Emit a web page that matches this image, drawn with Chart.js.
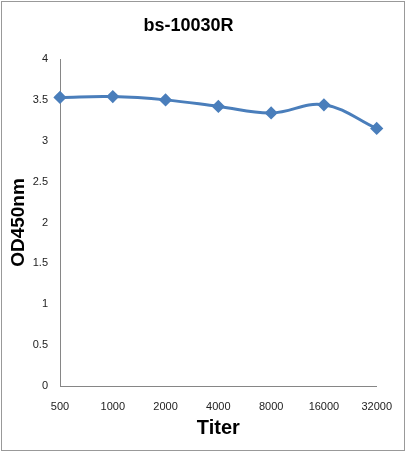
<!DOCTYPE html>
<html lang="en">
<head>
    <meta charset="UTF-8">
    <title>bs-10030R</title>
    <script src="https://cdn.jsdelivr.net/npm/chart.js"></script>
    <style>
        body {
            margin: 0;
            padding: 0;
            background: white;
        }
        #wrap {
            position: relative;
            width: 406px;
            height: 452px;
        }
        #frame {
            position: absolute;
            left: 1px;
            top: 1px;
            width: 402px;
            height: 448px;
            border: 1px solid #999;
            pointer-events: none;
        }
        canvas {
            position: absolute;
            left: 0;
            top: 0;
        }
    </style>
</head>
<body>
    <div id="wrap">
        <div id="frame"></div>
        <canvas id="odChart" width="406" height="452"></canvas>
    </div>

    <script>
        // values
        const titers = ['500', '1000', '2000', '4000', '8000', '16000', '32000'];
        const od450 = [3.53, 3.54, 3.50, 3.42, 3.34, 3.44, 3.15];
        const yMin = 0;
        const yMax = 4;
        const yStep = 0.5;

        const lineBlue = '#4a7ebb';
        const axisGray = '#868686';

        const ctx = document.getElementById('odChart').getContext('2d');
        const odChart = new Chart(ctx, {
            type: 'line',
            data: {
                labels: titers,
                datasets: [{
                    label: 'bs-10030R',
                    data: od450,
                    borderColor: lineBlue,
                    backgroundColor: lineBlue,
                    borderWidth: 3,
                    pointStyle: 'rectRot',
                    pointRadius: 4.5,
                    tension: 0.4,
                    fill: false
                }]
            },
            options: {
                responsive: false,
                animation: false,
                layout: {
                    padding: { left: 0, right: 29, top: 0, bottom: 0 }
                },
                plugins: {
                    legend: { display: false },
                    tooltip: { enabled: false },
                    title: {
                        display: true,
                        text: 'bs-10030R',
                        color: '#000',
                        font: { family: 'Liberation Sans', size: 18, weight: 'bold' },
                        padding: { top: 15, bottom: 22.4 }
                    }
                },
                scales: {
                    x: {
                        offset: false,
                        grid: { display: false, drawTicks: false },
                        border: { display: true, color: axisGray, width: 1 },
                        ticks: {
                            color: '#222',
                            padding: 14,
                            maxRotation: 0,
                            font: { family: 'Liberation Sans', size: 11 }
                        },
                        title: {
                            display: true,
                            text: 'Titer',
                            color: '#000',
                            font: { family: 'Liberation Sans', size: 20, weight: 'bold' },
                            padding: { top: 0, bottom: 12 }
                        },
                        afterFit: function(scale) { scale.height = 66; }
                    },
                    y: {
                        min: yMin,
                        max: yMax,
                        grid: { display: false, drawTicks: false },
                        border: { display: true, color: axisGray, width: 1 },
                        ticks: {
                            stepSize: yStep,
                            color: '#222',
                            padding: 12,
                            font: { family: 'Liberation Sans', size: 11 },
                            callback: function(value) { return String(value); }
                        },
                        title: {
                            display: true,
                            text: 'OD450nm',
                            color: '#000',
                            font: { family: 'Liberation Sans', size: 19, weight: 'bold' },
                            padding: { top: 7, bottom: 0 }
                        },
                        afterFit: function(scale) { scale.width = 60; }
                    }
                }
            }
        });
    </script>
</body>
</html>
